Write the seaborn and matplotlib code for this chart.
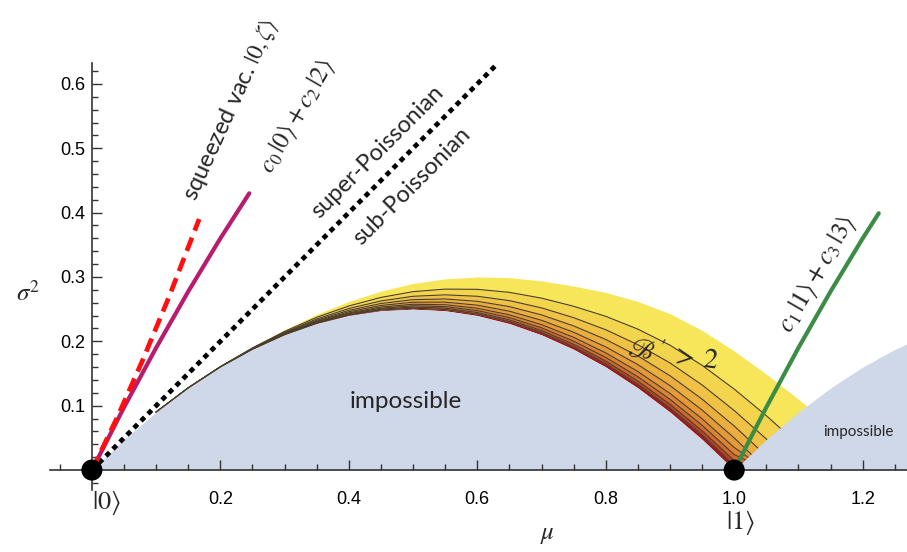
import numpy as np
import pandas as pd
import matplotlib
matplotlib.use('Agg')
import matplotlib.pyplot as plt
from matplotlib.ticker import FixedLocator, MultipleLocator, FormatStrFormatter
import seaborn as sns

# impossible region (minimum variance)
mu_left = [0.00, 0.05, 0.10, 0.15, 0.20, 0.25, 0.30, 0.35, 0.40, 0.45, 0.50,
           0.55, 0.60, 0.65, 0.70, 0.75, 0.80, 0.85, 0.90, 0.95, 1.00]
var_left = [0.0, 0.0475, 0.09, 0.1275, 0.16, 0.1875, 0.21, 0.2275, 0.24, 0.2475, 0.25,
            0.2475, 0.24, 0.2275, 0.21, 0.1875, 0.16, 0.1275, 0.09, 0.0475, 0.0]
mu_right = [1.00, 1.05, 1.10, 1.15, 1.20, 1.25, 1.30]
var_right = [0.0, 0.0475, 0.09, 0.1275, 0.16, 0.1875, 0.21]

# B' > 2 region: inner (red) edge, continued below the axis past mu=1, and outer (yellow) edge
mu_band = [0.10, 0.15, 0.20, 0.25, 0.30, 0.35, 0.40, 0.45, 0.50, 0.55, 0.60,
           0.65, 0.70, 0.75, 0.80, 0.85, 0.90, 0.95, 1.00, 1.05, 1.10, 1.15]
band_inner = [0.09, 0.1275, 0.16, 0.1875, 0.21, 0.2275, 0.24, 0.2475, 0.25, 0.2475, 0.24,
              0.2275, 0.21, 0.1875, 0.16, 0.1275, 0.09, 0.0475, 0.0, -0.0525, -0.11, -0.1725]
band_outer = [0.090, 0.128, 0.161, 0.191, 0.218, 0.242, 0.262, 0.278, 0.290, 0.297, 0.300,
              0.299, 0.294, 0.286, 0.276, 0.262, 0.243, 0.217, 0.185, 0.149, 0.110, 0.069]
# contour levels as fraction of the band width (outer -> inner)
band_levels = [1.0, 0.68, 0.50, 0.37, 0.27, 0.19, 0.13, 0.08, 0.04, 0.0]
band_colors = ['#f7e65a', '#f3d44d', '#efc246', '#eaae3f', '#e49a38', '#dc8432',
               '#cf6a2c', '#b84228', '#9e1b1b']

# states
mu_sq = [0.0, 0.04, 0.08, 0.12, 0.167]
var_sq = [0.0, 0.083, 0.173, 0.269, 0.39]
mu_02 = [0.0, 0.05, 0.10, 0.15, 0.20, 0.245]
var_02 = [0.0, 0.0975, 0.19, 0.2775, 0.36, 0.43]
mu_13 = [1.0, 1.05, 1.10, 1.15, 1.20, 1.225]
var_13 = [0.0, 0.0975, 0.19, 0.2775, 0.36, 0.399]
mu_poisson = [0.0, 0.632]
var_poisson = [0.0, 0.632]
mu_fock = [0.0, 1.0]
var_fock = [0.0, 0.0]

sns.set_theme(style='white')
plt.rcParams['font.family'] = ['Liberation Sans', 'DejaVu Sans']
plt.rcParams['mathtext.fontset'] = 'stix'

fig = plt.figure(figsize=(9.07, 5.52), dpi=100)
ax = fig.add_axes([0.0546, 0.1123, 0.9454, 0.773])
ax.set_xlim(-0.066, 1.269)
ax.set_ylim(-0.031, 0.632)
ax.set_axisbelow(False)

# colored bands
inner = np.array(band_inner)
outer = np.array(band_outer)
width = outer - inner
for k in range(len(band_colors)):
    top = np.maximum(inner + band_levels[k] * width, 0)
    bottom = np.maximum(inner + band_levels[k + 1] * width, 0)
    ax.fill_between(mu_band, bottom, top, color=band_colors[k], lw=0, zorder=0.5)
for lev in band_levels[1:-1]:
    ax.plot(mu_band, np.maximum(inner + lev * width, 0), color='#4a3e2a', lw=0.8, zorder=0.7)

# impossible regions
imp_color = '#cfd8e8'
ax.fill_between(mu_left, 0, var_left, color=imp_color, lw=0, zorder=1)
ax.fill_between(mu_right, 0, var_right, color=imp_color, lw=0, zorder=1)

# state lines
sns.lineplot(x=mu_poisson, y=var_poisson, ax=ax, color='black', lw=3.4,
             linestyle=(0, (1.1, 1.0)), zorder=5)
sns.lineplot(x=mu_02, y=var_02, ax=ax, color='#b81c6c', lw=3, zorder=6)
sns.lineplot(x=mu_sq, y=var_sq, ax=ax, color='#ff1010', lw=3.4,
             linestyle=(0, (3, 1.6)), zorder=7)
sns.lineplot(x=mu_13, y=var_13, ax=ax, color='#3b8c47', lw=3, zorder=6)
sns.scatterplot(x=mu_fock, y=var_fock, ax=ax, color='black', s=230,
                edgecolor='none', zorder=10, clip_on=False)

# axes in Mathematica style
for side in ['top', 'right']:
    ax.spines[side].set_visible(False)
for side in ['left', 'bottom']:
    ax.spines[side].set_position(('data', 0))
    ax.spines[side].set_color('#333333')
    ax.spines[side].set_linewidth(1.2)
    ax.spines[side].set_zorder(4)
ax.xaxis.set_major_locator(FixedLocator([0.2, 0.4, 0.6, 0.8, 1.0, 1.2]))
ax.xaxis.set_minor_locator(MultipleLocator(0.05))
ax.yaxis.set_major_locator(FixedLocator([0.1, 0.2, 0.3, 0.4, 0.5, 0.6]))
ax.yaxis.set_minor_locator(MultipleLocator(0.02))
ax.xaxis.set_major_formatter(FormatStrFormatter('%.1f'))
ax.yaxis.set_major_formatter(FormatStrFormatter('%.1f'))
ax.tick_params(which='both', bottom=True, left=True, direction='in',
               color='#333333', width=1.0, labelsize=13, labelcolor='black')
ax.tick_params(which='major', length=7)
ax.tick_params(which='minor', length=4)
ax.tick_params(axis='x', which='major', pad=15)
ax.tick_params(axis='y', which='major', pad=5)
ax.set_xlabel('')
ax.set_ylabel('')

word_font = 'Lato'
ax.text(-0.100, 0.274, r'$\sigma^2$', fontsize=18, ha='center', va='center', clip_on=False)
ax.text(0.710, -0.100, r'$\mu$', fontsize=18, ha='center', va='center', clip_on=False)
ax.text(0.022, -0.051, r'$|0\rangle$', fontsize=19, ha='center', va='center', clip_on=False)
ax.text(1.010, -0.082, r'$|1\rangle$', fontsize=19, ha='center', va='center', clip_on=False)

ax.text(0.216, 0.560, r'squeezed vac. $|0,\zeta\rangle$', fontsize=17, family=word_font,
        rotation=65.5, rotation_mode='anchor', ha='center', va='center')
ax.text(0.320, 0.549, r'$c_0\,|0\rangle + c_2\,|2\rangle$', fontsize=18,
        rotation=60, rotation_mode='anchor', ha='center', va='center')
ax.text(0.445, 0.494, 'super-Poissonian', fontsize=17, family=word_font,
        rotation=45, rotation_mode='anchor', ha='center', va='center')
ax.text(0.498, 0.441, 'sub-Poissonian', fontsize=17, family=word_font,
        rotation=45, rotation_mode='anchor', ha='center', va='center')
ax.text(1.130, 0.305, r'$c_1\,|1\rangle + c_3\,|3\rangle$', fontsize=18.5,
        rotation=60, rotation_mode='anchor', ha='center', va='center')
ax.text(0.905, 0.177, r"$\mathscr{B}^{\,\prime}\;>\;2$", fontsize=20,
        rotation=-8, rotation_mode='anchor', ha='center', va='center', zorder=8)
ax.text(0.489, 0.106, 'impossible', fontsize=17.5, family=word_font,
        ha='center', va='center', zorder=8)
ax.text(1.193, 0.059, 'impossible', fontsize=11, family=word_font,
        ha='center', va='center', zorder=8)

fig.savefig('out.png', dpi=100)
